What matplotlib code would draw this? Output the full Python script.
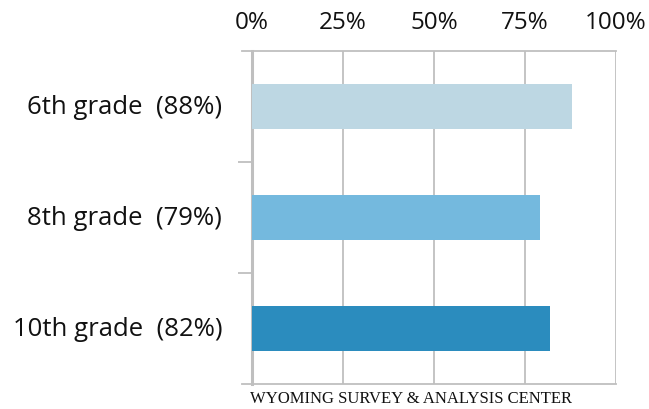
import matplotlib.pyplot as plt

grados = ["6th grade  (88%)", "8th grade  (79%)", "10th grade  (82%)"]
valores = [88, 79, 82]
colores = ["#BDD7E3", "#74B9DE", "#2B8CBE"]
ticks_x = [0, 25, 50, 75, 100]
etiquetas_x = ["0%", "25%", "50%", "75%", "100%"]
pie = "WYOMING SURVEY & ANALYSIS CENTER"

gris = "#BFBFBF"

fig = plt.figure(figsize=(6.49, 4.10), dpi=100)
ax = fig.add_axes([252 / 649, 1 - 385 / 410, (616 - 252) / 649, (385 - 52) / 410])

pos = list(range(len(grados)))
ax.barh(pos, valores, height=0.41, color=colores, zorder=3)

ax.set_xlim(0, 100)
ax.set_ylim(len(grados) - 0.5, -0.5)

ax.xaxis.tick_top()
ax.set_xticks(ticks_x)
ax.set_xticklabels(etiquetas_x, fontsize=17.5, family="Open Sans", color="#111111")
ax.tick_params(axis="x", length=0, pad=12)
ax.grid(axis="x", color=gris, linewidth=1.3, zorder=0)

ax.set_yticks([0.5, 1.5])
ax.set_yticklabels([])
ax.tick_params(axis="y", length=10, width=1.3, color=gris)
for p, g in zip(pos, grados):
    ax.text(-0.082, p, g, transform=ax.get_yaxis_transform(), ha="right", va="center",
            fontsize=18.5, family="Open Sans", color="#111111")

ax.spines["right"].set_visible(False)
ax.spines["left"].set_color(gris)
ax.spines["left"].set_linewidth(2.2)
for lado in ["top", "bottom"]:
    ax.spines[lado].set_color(gris)
    ax.spines[lado].set_linewidth(1.3)
    ax.spines[lado].set_bounds(-2.7, 100)

fig.text(250 / 649, 1 - 399 / 410, pie, ha="left", va="center", fontsize=12,
         family="Liberation Serif", color="#111111")

fig.savefig("out.png", dpi=100)
